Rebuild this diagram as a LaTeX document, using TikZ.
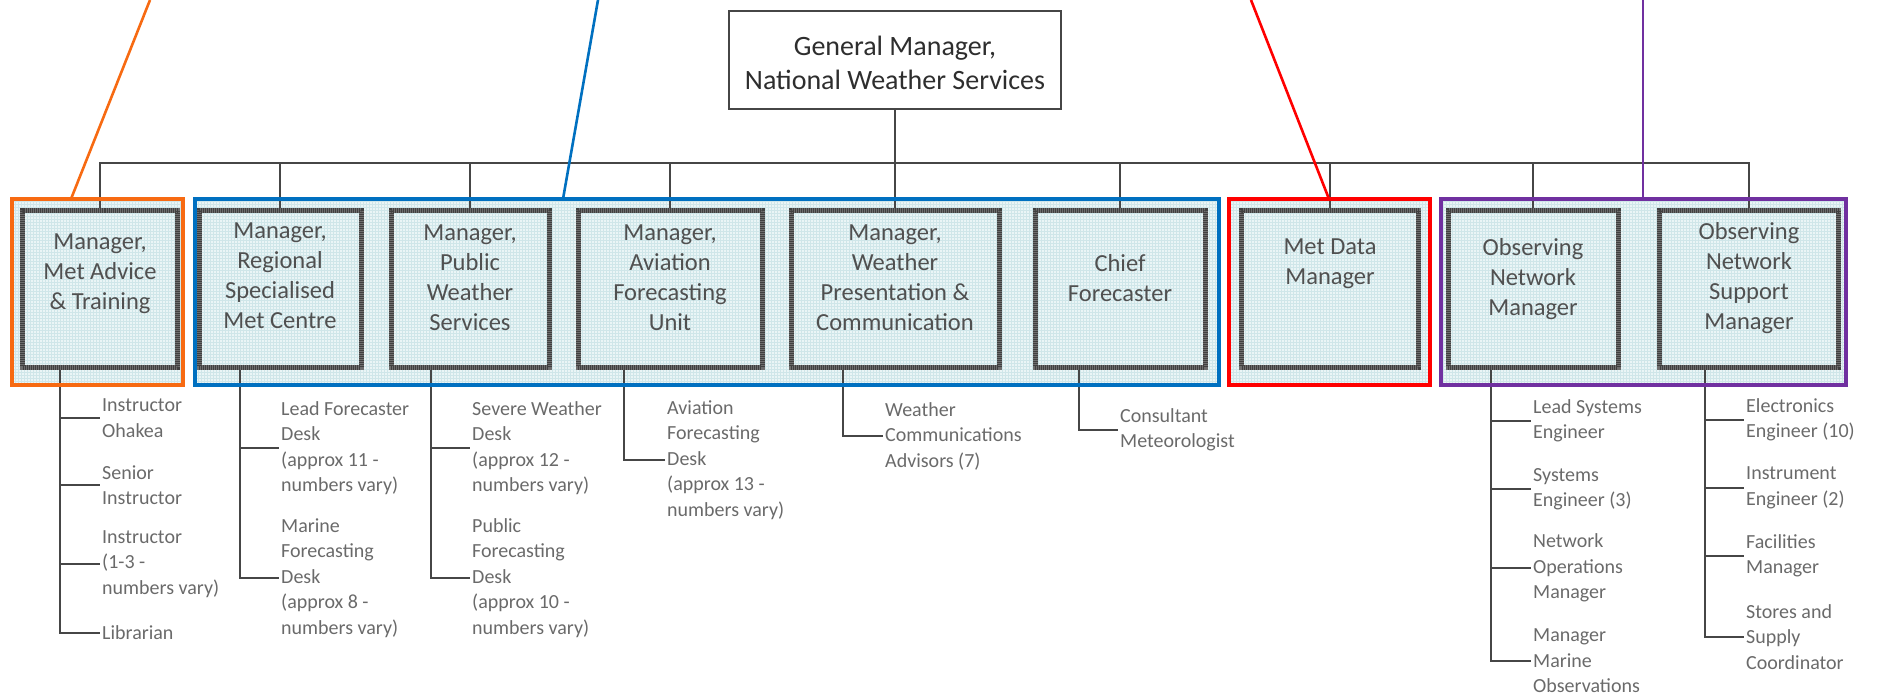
\documentclass[tikz,border=0pt]{standalone}
\usepackage{fontspec}
\setmainfont{Carlito}
\usetikzlibrary{patterns}
\definecolor{orangeG}{HTML}{F76A12}
\definecolor{blueG}{HTML}{0070C0}
\definecolor{redG}{HTML}{FF0000}
\definecolor{purpleG}{HTML}{7030A0}
\definecolor{linegray}{HTML}{464646}
\definecolor{boxborder}{HTML}{6E6E6E}
\definecolor{boxborderdk}{HTML}{404040}
\definecolor{cyanfill}{HTML}{EAF5F6}
\definecolor{gridcol}{HTML}{CFE6E9}
\definecolor{boxtext}{HTML}{505050}
\definecolor{childtext}{HTML}{6A6A6A}
\definecolor{gmtext}{HTML}{2E2E2E}
\begin{document}
\begin{tikzpicture}[x=1pt,y=-1pt,
  conn/.style={draw=linegray, line width=2.2pt},
  grpfill/.style={preaction={fill=cyanfill}, pattern=grid, pattern color=gridcol, draw=none, inner sep=0pt, minimum height=186pt},
  grpline/.style={line width=3.6pt},
  mbox/.style={draw=boxborder, line width=5pt, preaction={fill=cyanfill}, pattern=grid, pattern color=gridcol, minimum height=157pt, inner sep=0pt,
     postaction={draw=boxborderdk, line width=5pt, dash pattern=on 1pt off 1pt}},
  gmbox/.style={draw=linegray, line width=2.6pt, fill=white, minimum width=332pt, minimum height=98pt, inner sep=0pt},
  mtext/.style={font=\fontsize{24.5}{30}\selectfont, text=boxtext, align=center, inner sep=0pt},
  gtext/.style={font=\fontsize{28}{34}\selectfont, text=gmtext, align=center, inner sep=0pt},
  ctext/.style={font=\fontsize{20}{25.5}\selectfont, text=childtext, align=left, inner sep=0pt, anchor=west},
  lbr/.style={conn, shorten >=2pt},
]
\useasboundingbox (0,0) rectangle (1877,699);

% group backgrounds
\node[grpfill, minimum width=171pt] (og) at (97.5,292) {};
\node[grpfill, minimum width=1024pt] (bg) at (707,292) {};
\node[grpfill, minimum width=201pt] (rg) at (1329.5,292) {};
\node[grpfill, minimum width=405pt] (pg) at (1643.5,292) {};

% top box
\node[gmbox] (gm) at (895,60) {};
\node[gtext] (gmt) at (895,63) {General Manager,\\National Weather Services};

% main boxes (placed first as anchors)
\node[mbox, minimum width=155pt] (b1) at (100,288.5) {};
\node[mbox, minimum width=162pt] (b2) at (280,288.5) {};
\node[mbox, minimum width=158pt] (b3) at (470,288.5) {};
\node[mbox, minimum width=184pt] (b4) at (670,288.5) {};
\node[mbox, minimum width=208pt] (b5) at (895,288.5) {};
\node[mbox, minimum width=170pt] (b6) at (1120,288.5) {};
\node[mbox, minimum width=177pt] (b7) at (1330,288.5) {};
\node[mbox, minimum width=170pt] (b8) at (1533,288.5) {};
\node[mbox, minimum width=179pt] (b9) at (1749,288.5) {};

% bus
\coordinate (bus) at (0,163);
\draw[conn] (b1.north) -- (b1.north |- bus) -- (b9.north |- bus) -- (b9.north);
\foreach \b in {b2,b3,b4,b6,b7,b8} {\draw[conn] (\b.north) -- (\b.north |- bus);}
\draw[conn] (gm.south) -- (b5.north);

% child text nodes
\node[ctext] (c11) at (102,418) {Instructor\\Ohakea};
\node[ctext] (c12) at (102,485) {Senior\\Instructor};
\node[ctext] (c13) at (102,564) {Instructor\\(1-3 -\\numbers vary)};
\node[ctext] (c14) at (102,633) {Librarian};
\node[ctext] (c21) at (281,448) {Lead Forecaster\\Desk\\(approx 11 -\\numbers vary)};
\node[ctext] (c22) at (281,578) {Marine\\Forecasting\\Desk\\(approx 8 -\\numbers vary)};
\node[ctext] (c31) at (472,448) {Severe Weather\\Desk\\(approx 12 -\\numbers vary)};
\node[ctext] (c32) at (472,578) {Public\\Forecasting\\Desk\\(approx 10 -\\numbers vary)};
\node[ctext] (c41) at (667,460) {Aviation\\Forecasting\\Desk\\(approx 13 -\\numbers vary)};
\node[ctext] (c51) at (885,436) {Weather\\Communications\\Advisors (7)};
\node[ctext] (c61) at (1120,430) {Consultant\\Meteorologist};
\node[ctext] (c81) at (1533,421) {Lead Systems\\Engineer};
\node[ctext] (c82) at (1533,489) {Systems\\Engineer (3)};
\node[ctext] (c83) at (1533,568) {Network\\Operations\\Manager};
\node[ctext] (c84) at (1533,661) {Manager\\Marine\\Observations};
\node[ctext] (c91) at (1746,420) {Electronics\\Engineer (10)};
\node[ctext] (c92) at (1746,488) {Instrument\\Engineer (2)};
\node[ctext] (c93) at (1746,556) {Facilities\\Manager};
\node[ctext] (c94) at (1746,637) {Stores and\\Supply\\Coordinator};

% trunks
\coordinate (tr1) at (60,0);
\coordinate (tr2) at (240,0);
\coordinate (tr3) at (431,0);
\coordinate (tr4) at (624,0);
\coordinate (tr5) at (843,0);
\coordinate (tr6) at (1079,0);
\coordinate (tr8) at (1491,0);
\coordinate (tr9) at (1705,0);
\foreach \t/\b/\c in {tr1/b1/c11,tr1/b1/c12,tr1/b1/c13,tr1/b1/c14,
  tr2/b2/c21,tr2/b2/c22,tr3/b3/c31,tr3/b3/c32,tr4/b4/c41,tr5/b5/c51,tr6/b6/c61,
  tr8/b8/c81,tr8/b8/c82,tr8/b8/c83,tr8/b8/c84,
  tr9/b9/c91,tr9/b9/c92,tr9/b9/c93,tr9/b9/c94}
  {\draw[lbr] (\t |- \b.south) |- (\c.west);}

% group borders
\draw[grpline, draw=orangeG] (og.north west) rectangle (og.south east);
\draw[grpline, draw=blueG] (bg.north west) rectangle (bg.south east);
\draw[grpline, draw=redG] (rg.north west) rectangle (rg.south east);
\draw[grpline, draw=purpleG] (pg.north west) rectangle (pg.south east);

% coloured pointer lines
\coordinate (otop) at (150,0);  \coordinate (obot) at (71,199);
\coordinate (btop) at (598,0);  \coordinate (bbot) at (563,199);
\coordinate (rtop) at (1251,0); \coordinate (rbot) at (1329,199);
\coordinate (ptop) at (1643,0); \coordinate (pbot) at (1643,199);
\draw[draw=orangeG, line width=2.6pt] (otop) -- (obot);
\draw[draw=blueG, line width=2.6pt] (btop) -- (bbot);
\draw[draw=redG, line width=2.6pt] (rtop) -- (rbot);
\draw[draw=purpleG, line width=2.6pt] (ptop) -- (pbot);

% main boxes redrawn on top
\foreach \b/\x/\w in {b1/100/155,b2/280/162,b3/470/158,b4/670/184,b5/895/208,b6/1120/170,b7/1330/177,b8/1533/170,b9/1749/179}
  {\node[mbox, minimum width=\w pt] at (\x,288.5) {};}

% box texts
\node[mtext] (t1) at (100,274) {Manager,\\Met Advice\\\& Training};
\node[mtext] (t2) at (280,276) {Manager,\\Regional\\Specialised\\Met Centre};
\node[mtext] (t3) at (470,278) {Manager,\\Public\\Weather\\Services};
\node[mtext] (t4) at (670,278) {Manager,\\Aviation\\Forecasting\\Unit};
\node[mtext] (t5) at (895,278) {Manager,\\Weather\\Presentation \&\\Communication};
\node[mtext] (t6) at (1120,278) {Chief\\Forecaster};
\node[mtext] (t7) at (1330,264) {Met Data\\Manager};
\node[mtext] (t8) at (1533,279) {Observing\\Network\\Manager};
\node[mtext] (t9) at (1749,278) {Observing\\Network\\Support\\Manager};
\end{tikzpicture}
\end{document}
